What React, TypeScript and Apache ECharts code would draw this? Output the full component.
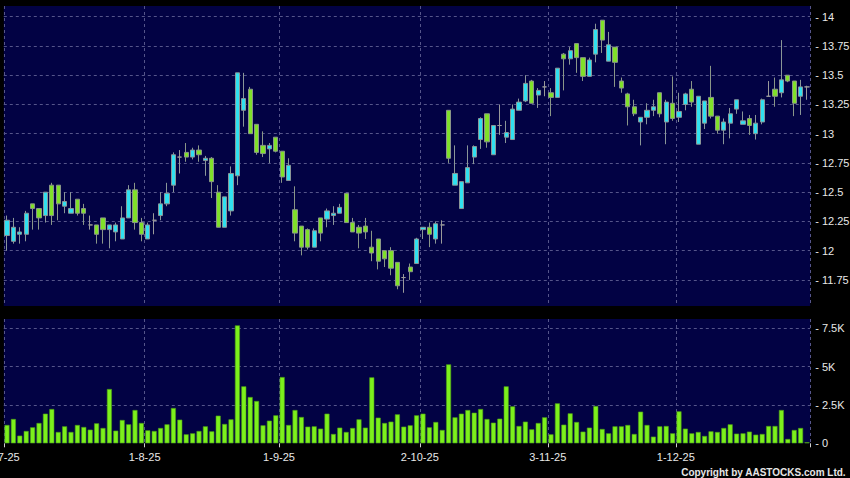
import React, { useEffect, useRef } from "react";
import * as echarts from "echarts";

const DATES = [
  "2-7-25","3-7-25","4-7-25","7-7-25","8-7-25","9-7-25","10-7-25","11-7-25","14-7-25","15-7-25","16-7-25","17-7-25","18-7-25","21-7-25","22-7-25","23-7-25","24-7-25","25-7-25","28-7-25","29-7-25","30-7-25","31-7-25",
  "1-8-25","4-8-25","5-8-25","6-8-25","7-8-25","8-8-25","11-8-25","12-8-25","13-8-25","14-8-25","15-8-25","18-8-25","19-8-25","20-8-25","21-8-25","22-8-25","25-8-25","26-8-25","27-8-25","28-8-25","29-8-25",
  "1-9-25","2-9-25","3-9-25","4-9-25","5-9-25","8-9-25","9-9-25","10-9-25","11-9-25","12-9-25","15-9-25","16-9-25","17-9-25","18-9-25","19-9-25","22-9-25","23-9-25","24-9-25","25-9-25","26-9-25","29-9-25","30-9-25",
  "2-10-25","3-10-25","6-10-25","8-10-25","9-10-25","10-10-25","13-10-25","14-10-25","15-10-25","16-10-25","17-10-25","20-10-25","21-10-25","22-10-25","23-10-25","24-10-25","27-10-25","28-10-25","30-10-25","31-10-25",
  "3-11-25","4-11-25","5-11-25","6-11-25","7-11-25","10-11-25","11-11-25","12-11-25","13-11-25","14-11-25","17-11-25","18-11-25","19-11-25","20-11-25","21-11-25","24-11-25","25-11-25","26-11-25","27-11-25","28-11-25",
  "1-12-25","2-12-25","3-12-25","4-12-25","5-12-25","8-12-25","9-12-25","10-12-25","11-12-25","12-12-25","15-12-25","16-12-25","17-12-25","18-12-25","19-12-25","22-12-25","23-12-25","24-12-25","29-12-25","30-12-25","31-12-25",
];

const OPEN = [
  12.13,12.08,12.14,12.14,12.40,12.36,12.30,12.56,12.56,12.38,
  12.32,12.44,12.36,12.22,12.22,12.28,12.18,12.16,12.10,12.28,
  12.52,12.24,12.10,12.26,12.30,12.40,12.56,12.80,12.84,12.80,
  12.86,12.77,12.79,12.50,12.20,12.34,12.64,13.20,13.38,13.08,
  12.90,12.87,12.97,12.85,12.60,12.35,12.21,12.18,12.03,12.28,
  12.27,12.30,12.32,12.49,12.24,12.20,12.21,12.03,12.10,12.00,
  12.00,11.90,11.77,11.86,11.89,12.18,12.20,12.10,12.22,13.20,
  12.56,12.36,12.58,12.80,12.95,13.17,12.82,13.07,12.97,12.95,
  13.20,13.28,13.45,13.33,13.40,13.35,13.31,13.68,13.64,13.77,
  13.65,13.49,13.68,13.97,13.62,13.74,13.45,13.34,13.23,13.10,
  13.14,13.20,13.35,13.10,13.26,13.14,13.25,13.38,12.91,13.09,
  13.31,13.15,13.03,13.09,13.21,13.08,13.13,13.00,13.10,13.32,
  13.38,13.35,13.50,13.45,13.32,13.40,
];

const CLOSE = [
  12.26,12.20,12.16,12.32,12.36,12.28,12.50,12.30,12.40,12.42,
  12.36,12.32,12.32,12.22,12.14,12.18,12.22,12.22,12.28,12.52,
  12.24,12.14,12.22,12.26,12.40,12.49,12.82,12.80,12.80,12.86,
  12.82,12.79,12.59,12.20,12.46,12.66,13.52,13.30,13.00,12.84,
  12.83,12.90,12.85,12.63,12.73,12.15,12.03,12.03,12.17,12.15,
  12.34,12.32,12.37,12.24,12.16,12.15,12.16,11.98,11.91,11.93,
  11.85,11.70,11.77,11.82,12.10,12.20,12.14,12.23,12.22,12.79,
  12.66,12.59,12.71,12.89,13.13,12.93,13.07,13.07,13.01,13.21,
  13.27,13.43,13.26,13.37,13.40,13.31,13.56,13.64,13.71,13.65,
  13.49,13.63,13.89,13.80,13.76,13.61,13.39,13.23,13.17,13.14,
  13.20,13.23,13.17,13.27,13.13,13.19,13.34,13.27,13.32,13.28,
  13.15,13.03,13.10,13.17,13.29,13.11,13.07,13.09,13.29,13.32,
  13.32,13.46,13.45,13.26,13.40,13.40,
];

const LOW = [
  12.00,12.06,12.06,12.08,12.18,12.18,12.24,12.22,12.26,12.32,
  12.32,12.30,12.22,12.18,12.06,12.06,12.02,12.08,12.10,12.28,
  12.18,12.08,12.10,12.14,12.26,12.38,12.50,12.66,12.76,12.78,
  12.76,12.64,12.45,12.20,12.20,12.30,12.56,13.06,13.00,12.82,
  12.80,12.75,12.84,12.58,12.60,12.08,11.96,12.01,12.03,12.08,
  12.20,12.22,12.32,12.24,12.16,12.02,12.10,11.91,11.84,11.86,
  11.79,11.67,11.64,11.75,11.89,12.10,12.03,12.06,12.06,12.75,
  12.56,12.36,12.58,12.74,12.87,12.88,12.82,12.99,12.92,12.95,
  13.20,13.27,13.26,13.22,13.32,13.15,13.31,13.37,13.59,13.52,
  13.45,13.49,13.61,13.69,13.62,13.40,13.35,13.07,13.15,12.90,
  13.08,13.15,13.14,12.91,13.11,13.10,13.20,13.23,12.91,13.04,
  13.13,13.00,12.91,12.96,13.17,13.08,12.99,12.95,13.08,13.32,
  13.23,13.31,13.44,13.15,13.16,13.29,
];

const HIGH = [
  12.30,12.28,12.20,12.34,12.40,12.36,12.50,12.58,12.56,12.50,
  12.50,12.44,12.40,12.30,12.22,12.28,12.22,12.24,12.38,12.56,
  12.58,12.28,12.24,12.32,12.50,12.58,12.84,12.86,12.92,12.88,
  12.90,12.81,12.80,12.56,12.46,12.72,13.52,13.52,13.40,13.08,
  13.02,12.92,12.97,12.85,12.79,12.55,12.21,12.19,12.19,12.28,
  12.36,12.38,12.40,12.49,12.28,12.22,12.28,12.17,12.10,12.00,
  12.03,11.90,11.80,11.89,12.11,12.20,12.24,12.25,12.26,13.20,
  12.90,12.59,12.90,12.90,13.14,13.17,13.07,13.25,13.11,13.25,
  13.30,13.50,13.46,13.39,13.45,13.39,13.56,13.69,13.74,13.77,
  13.65,13.65,13.94,13.97,13.87,13.74,13.48,13.35,13.29,13.14,
  13.26,13.29,13.35,13.29,13.49,13.35,13.35,13.45,13.32,13.28,
  13.58,13.15,13.13,13.22,13.29,13.19,13.16,13.16,13.30,13.45,
  13.48,13.80,13.50,13.45,13.46,13.41,
];

const VOLUME = [
  1194,1584,499,803,1042,1324,1931,2235,738,1107,
  738,1194,1063,890,1302,998,3537,825,1519,1237,
  2170,1324,846,803,998,1237,2300,1541,586,651,
  803,1107,781,1801,1259,1562,7682,3711,3016,2756,
  1172,1476,1823,4318,1194,2170,1714,1085,1107,955,
  1931,608,1020,738,998,1562,1020,4297,1671,1324,
  1411,1888,1085,1172,1823,1931,1042,1389,868,5143,
  1693,1931,2170,1996,2235,1584,1345,1606,3711,2409,
  1128,1411,911,1324,1693,586,2604,1215,1953,1389,
  760,1020,2430,933,651,1107,1107,1194,608,2062,
  1194,434,1107,1128,651,2083,955,651,738,477,
  781,738,998,1237,629,651,760,564,608,1128,
  1128,2170,282,868,998,65,
];

const FONT = "Arial, 'Liberation Sans', sans-serif";
const UP = "#30e0f0";
const DOWN = "#80e02a";
const VOL = "#7cf01c";

const monthOf = (d: string) => d.split("-")[1];
const isMonthStart = (i: number) =>
  i === 0 || (i < DATES.length && monthOf(DATES[i]) !== monthOf(DATES[i - 1]));

export default function App() {
  const ref = useRef<HTMLDivElement>(null);
  useEffect(() => {
    const chart = echarts.init(ref.current!, undefined, { renderer: "svg", width: 850, height: 478 });
    const gridLine = { show: true, lineStyle: { color: "#55558a", type: [3, 3] as any, width: 1 } };
    const candles = DATES.map((_, i) => [OPEN[i], CLOSE[i], LOW[i], HIGH[i]]);
    const option: any = {
      animation: false,
      backgroundColor: "#000000",
      grid: [
        { left: 3.8, top: 6, width: 806.4, height: 300, show: true, backgroundColor: "#020244", borderWidth: 0, outerBoundsMode: "none", containLabel: false },
        { left: 3.8, top: 319, width: 806.4, height: 124.3, show: true, backgroundColor: "#020244", borderWidth: 0, outerBoundsMode: "none", containLabel: false },
      ],
      xAxis: [
        {
          type: "category", gridIndex: 0, data: DATES, boundaryGap: true,
          axisLine: { show: false }, axisTick: { show: false }, axisLabel: { show: false },
          splitLine: { ...gridLine, interval: (i: number) => isMonthStart(i) },
        },
        {
          type: "category", gridIndex: 1, data: DATES, boundaryGap: true,
          axisLine: { show: false },
          axisTick: { show: true, length: 4, interval: (i: number) => isMonthStart(i), lineStyle: { color: "#d0d0d0" } },
          axisLabel: {
            interval: (i: number) => isMonthStart(i), color: "#e8e8e8", fontSize: 11, fontFamily: FONT,
            margin: 8, padding: [0, 6.4, 0, 0], hideOverlap: false,
          },
          splitLine: { ...gridLine, interval: (i: number) => isMonthStart(i) },
        },
      ],
      yAxis: [
        {
          type: "value", gridIndex: 0, position: "right", min: 11.527, max: 14.0915,
          minInterval: 0.25, maxInterval: 0.25, scale: true,
          axisLine: { show: false }, axisTick: { show: false },
          axisLabel: {
            color: "#e8e8e8", fontSize: 11, fontFamily: FONT, margin: 5,
            showMinLabel: false, showMaxLabel: false,
            formatter: (v: number) => "- " + v,
          },
          splitLine: { ...gridLine, showMinLine: false, showMaxLine: false },
        },
        {
          type: "value", gridIndex: 1, position: "right", min: 0, max: 8100,
          minInterval: 2500, maxInterval: 2500,
          axisLine: { show: false }, axisTick: { show: false },
          axisLabel: {
            color: "#e8e8e8", fontSize: 11, fontFamily: FONT, margin: 5,
            showMaxLabel: false,
            formatter: (v: number) => (v === 0 ? "- 0" : "- " + v / 1000 + "K"),
          },
          splitLine: { ...gridLine, showMinLine: false, showMaxLine: false },
        },
      ],
      series: [
        {
          type: "candlestick", xAxisIndex: 0, yAxisIndex: 0, data: candles, barWidth: 4.6,
          itemStyle: {
            color: UP, color0: DOWN, borderColor: "#8a9698", borderColor0: "#8a9688",
            borderColorDoji: "#9a9a9a", borderWidth: 1,
          },
        },
        {
          type: "bar", xAxisIndex: 1, yAxisIndex: 1, data: VOLUME, barWidth: 5,
          itemStyle: { color: VOL, borderColor: "#4c9a16", borderWidth: 0.6 },
        },
      ],
      graphic: [
        {
          type: "text", right: 4, bottom: 1,
          style: { text: "Copyright by AASTOCKS.com Ltd.", fill: "#e6e6e6", font: "bold 10px " + FONT },
        },
      ],
    };
    chart.setOption(option);
    return () => chart.dispose();
  }, []);
  return (
    <div
      ref={ref}
      style={{ position: "fixed", left: 0, top: 0, width: 850, height: 478, background: "#000" }}
    />
  );
}
